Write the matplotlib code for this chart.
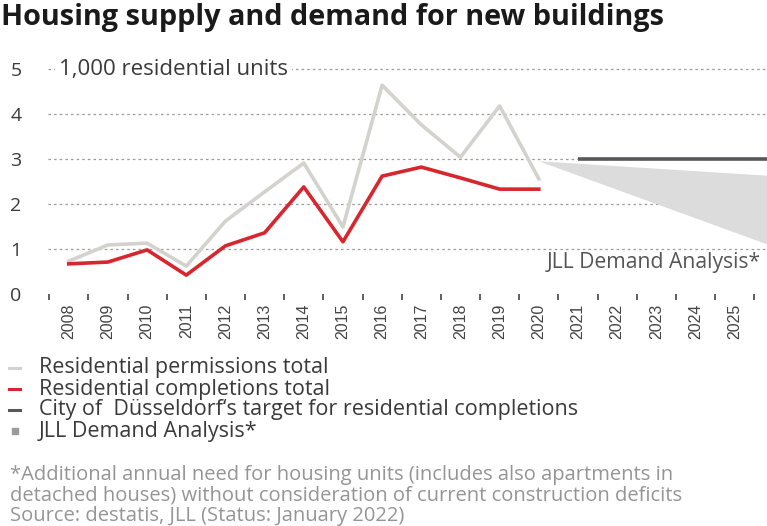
import numpy as np
import matplotlib
matplotlib.use('Agg')
import matplotlib.pyplot as plt
from matplotlib.lines import Line2D
from matplotlib.patches import Polygon as MplPolygon

# data (1,000 residential units)
years = list(range(2008, 2026))
hist_years = list(range(2008, 2021))
permissions = [0.73, 1.09, 1.13, 0.62, 1.62, 2.27, 2.91, 1.49, 4.64, 3.76, 3.04, 4.18, 2.56]
completions = [0.67, 0.71, 0.98, 0.42, 1.07, 1.36, 2.38, 1.16, 2.62, 2.82, 2.58, 2.33, 2.33]
target_years = [2021, 2026]
target_values = [3.0, 3.0]
demand_years = [2020, 2026]
demand_high = [2.95, 2.62]
demand_low = [2.95, 1.05]

c_perm = '#d3d2ce'
c_comp = '#d8262e'
c_target = '#58585a'
c_demand = '#dcdcdc'
c_text = '#3a3a3a'
body_font = ['Open Sans', 'DejaVu Sans']

fig = plt.figure(figsize=(7.67, 5.26), dpi=100)
ax = fig.add_axes([48 / 767, 1 - 294 / 526, 1 - 48 / 767, 236.25 / 526])

ax.set_xlim(2007.47, 2007.47 + (767 - 48) / 39.17)
ax.set_ylim(0, 5.25)

# grid
for v in [1, 2, 3, 4, 5]:
    ax.axhline(v, color='#9a9a9a', lw=0.9, ls=(0, (2, 2.5)), zorder=1)

# demand wedge
tri = list(zip(demand_years, demand_high)) + list(zip(demand_years[::-1], demand_low[::-1]))
ax.add_patch(MplPolygon(tri, closed=True, facecolor=c_demand, edgecolor='none', zorder=2))

ax.plot(target_years, target_values, color=c_target, lw=2.6, solid_capstyle='butt', zorder=3)
ax.plot(hist_years, permissions, color=c_perm, lw=2.6, zorder=4)
ax.plot(hist_years, completions, color=c_comp, lw=2.6, zorder=5)

ax.text(2020.2, 0.69, 'JLL Demand Analysis*', fontsize=15.2, color='#555555',
        family=body_font, va='center', ha='left', zorder=6)

ax.text(2008.0 - 0.25, 5.0, '1,000 residential units', fontsize=16, color=c_text,
        family=body_font, va='center', ha='left', zorder=6,
        bbox=dict(facecolor='white', edgecolor='none', pad=3))

for s in ax.spines.values():
    s.set_visible(False)

ax.set_yticks([0, 1, 2, 3, 4, 5])
ax.set_yticklabels(['0', '1', '2', '3', '4', '5'], fontsize=14, color=c_text, family=body_font)
ax.tick_params(axis='y', length=0, pad=19)

ax.set_xticks(years)
ax.set_xticklabels([str(y) for y in years], rotation=90, fontsize=11.5, color='#444444',
                   family=['Liberation Sans', 'DejaVu Sans'])
ax.set_xticks([y + 0.5 for y in range(2007, 2026)], minor=True)
ax.tick_params(axis='x', which='major', length=0, pad=7)
ax.tick_params(axis='x', which='minor', length=4, width=1.2, color='#444444')

# title
fig.text(1 / 767, 1 - 17 / 526, 'Housing supply and demand for new buildings', fontsize=20.8,
         fontweight='bold', color='#1a1a1a', family=['Open Sans', 'DejaVu Sans'], va='center', ha='left')

# legend
leg_items = [
    ('line', c_perm, 'Residential permissions total'),
    ('line', c_comp, 'Residential completions total'),
    ('line', c_target, 'City of  D\u00fcsseldorf\u2018s target for residential completions'),
    ('square', '#9a9a9a', 'JLL Demand Analysis*'),
]
for i, (kind, col, label) in enumerate(leg_items):
    yc = 1 - (368 + i * 21) / 526
    if kind == 'line':
        fig.add_artist(Line2D([9 / 767, 20 / 767], [yc, yc], color=col, lw=2.2,
                              transform=fig.transFigure))
    else:
        fig.add_artist(Line2D([15 / 767], [yc], marker='s', markersize=5, color=col,
                              transform=fig.transFigure))
    fig.text(39 / 767, yc, label, fontsize=15.5, color=c_text, family=body_font,
             va='center', ha='left')

notes = [
    '*Additional annual need for housing units (includes also apartments in',
    'detached houses) without consideration of current construction deficits',
    'Source: destatis, JLL (Status: January 2022)',
]
note_baselines = [480, 500.5, 521]
for line, yb in zip(notes, note_baselines):
    fig.text(10 / 767, 1 - yb / 526, line, fontsize=14.5, color='#959595',
             family=body_font, va='baseline', ha='left')

fig.savefig('out.png', dpi=100)
